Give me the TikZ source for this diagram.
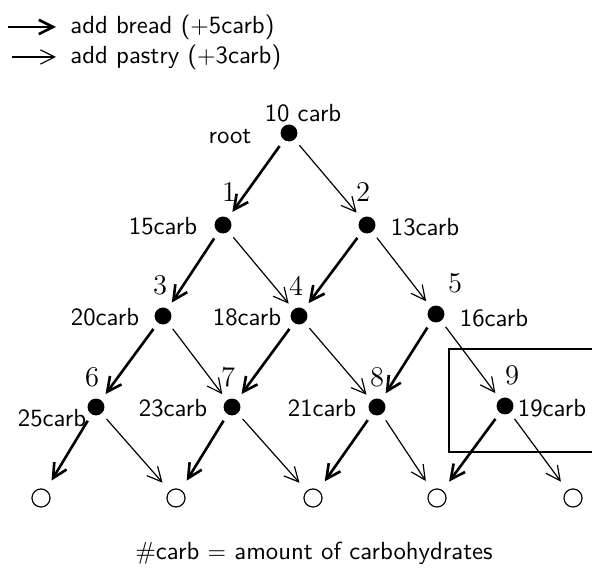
\documentclass[tikz,border=0pt]{standalone}
\usetikzlibrary{arrows.meta}
\begin{document}
\begin{tikzpicture}[x=0.42pt,y=-0.42pt,
  dot/.style={circle,fill=black,inner sep=0pt,minimum size=7.1pt},
  leaf/.style={circle,draw,line width=0.5pt,inner sep=0pt,minimum size=7.6pt},
  tip/.style={-{Straight Barb[length=6pt,width=6pt]}},
  bread/.style={tip,line width=1.1pt,shorten <=3pt,shorten >=3pt},
  pastry/.style={tip,line width=0.5pt,shorten <=3pt,shorten >=3pt},
  toleaf/.style={shorten >=4.5pt},
  lbl/.style={font=\sffamily\fontsize{10.4}{12.5}\selectfont,inner sep=0pt},
  num/.style={font=\fontsize{12}{14}\selectfont,inner sep=0pt}]
\useasboundingbox (0,0) rectangle (592,570);

% legend
\coordinate (lb1) at (8,27);
\coordinate (lb2) at (56,27);
\coordinate (lp1) at (12,57);
\coordinate (lp2) at (56,57);
\draw[bread,shorten <=0pt,shorten >=0pt] (lb1) -- (lb2);
\draw[pastry,shorten <=0pt,shorten >=0pt] (lp1) -- (lp2);
\node[lbl,anchor=west] (tb) at (70,27) {add bread ($+$5carb)};
\node[lbl,anchor=west] (tp) at (70,57) {add pastry ($+$3carb)};

% decision tree nodes
\node[dot] (r) at (289,133) {};
\node[dot] (n1) at (223,225) {};
\node[dot] (n2) at (367,225) {};
\node[dot] (n3) at (163,316) {};
\node[dot] (n4) at (299,316) {};
\node[dot] (n5) at (436,314) {};
\node[dot] (n6) at (96,407) {};
\node[dot] (n7) at (232,407) {};
\node[dot] (n8) at (377,407) {};
\node[dot] (n9) at (505,406) {};
\node[leaf] (l1) at (41,498) {};
\node[leaf] (l2) at (176,498) {};
\node[leaf] (l3) at (313,498) {};
\node[leaf] (l4) at (437,498) {};
\node[leaf] (l5) at (573,498) {};

% highlighted box around node 9
\coordinate (bx1) at (592,349);
\coordinate (bx2) at (449,349);
\coordinate (bx3) at (449,452);
\coordinate (bx4) at (592,452);
\draw[line width=0.6pt] (bx1) -- (bx2) -- (bx3) -- (bx4);

% edges
\draw[bread] (r) -- (n1);
\draw[pastry] (r) -- (n2);
\draw[bread] (n1) -- (n3);
\draw[pastry] (n1) -- (n4);
\draw[bread] (n2) -- (n4);
\draw[pastry] (n2) -- (n5);
\draw[bread] (n3) -- (n6);
\draw[pastry] (n3) -- (n7);
\draw[bread] (n4) -- (n7);
\draw[pastry] (n4) -- (n8);
\draw[bread] (n5) -- (n8);
\draw[pastry] (n5) -- (n9);
\draw[bread,toleaf] (n6) -- (l1);
\draw[pastry,toleaf] (n6) -- (l2);
\draw[bread,toleaf] (n7) -- (l2);
\draw[pastry,toleaf] (n7) -- (l3);
\draw[bread,toleaf] (n8) -- (l3);
\draw[pastry,toleaf] (n8) -- (l4);
\draw[bread,toleaf] (n9) -- (l4);
\draw[pastry,toleaf] (n9) -- (l5);

% labels
\node[lbl] (cr) at (303,113) {10 carb};
\node[lbl] (tr) at (230,137) {root};
\node[num] (k1) at (229,192) {1};
\node[lbl] (c1) at (163,226) {15carb};
\node[num] (k2) at (363,192) {2};
\node[lbl] (c2) at (425,227) {13carb};
\node[num] (k3) at (160,285) {3};
\node[lbl] (c3) at (105,317) {20carb};
\node[num] (k4) at (296,286) {4};
\node[lbl] (c4) at (247,317) {18carb};
\node[num] (k5) at (455,283) {5};
\node[lbl] (c5) at (494,318) {16carb};
\node[num] (k6) at (92,377) {6};
\node[lbl] (c6) at (52,418) {25carb};
\node[num] (k7) at (228,377) {7};
\node[lbl] (c7) at (173,408) {23carb};
\node[num] (k8) at (377,377) {8};
\node[lbl] (c8) at (322,408) {21carb};
\node[num] (k9) at (512,375) {9};
\node[lbl] (c9) at (552,408) {19carb};

% caption
\node[lbl] (cap) at (314,553) {\#carb $=$ amount of carbohydrates};
\end{tikzpicture}
\end{document}
